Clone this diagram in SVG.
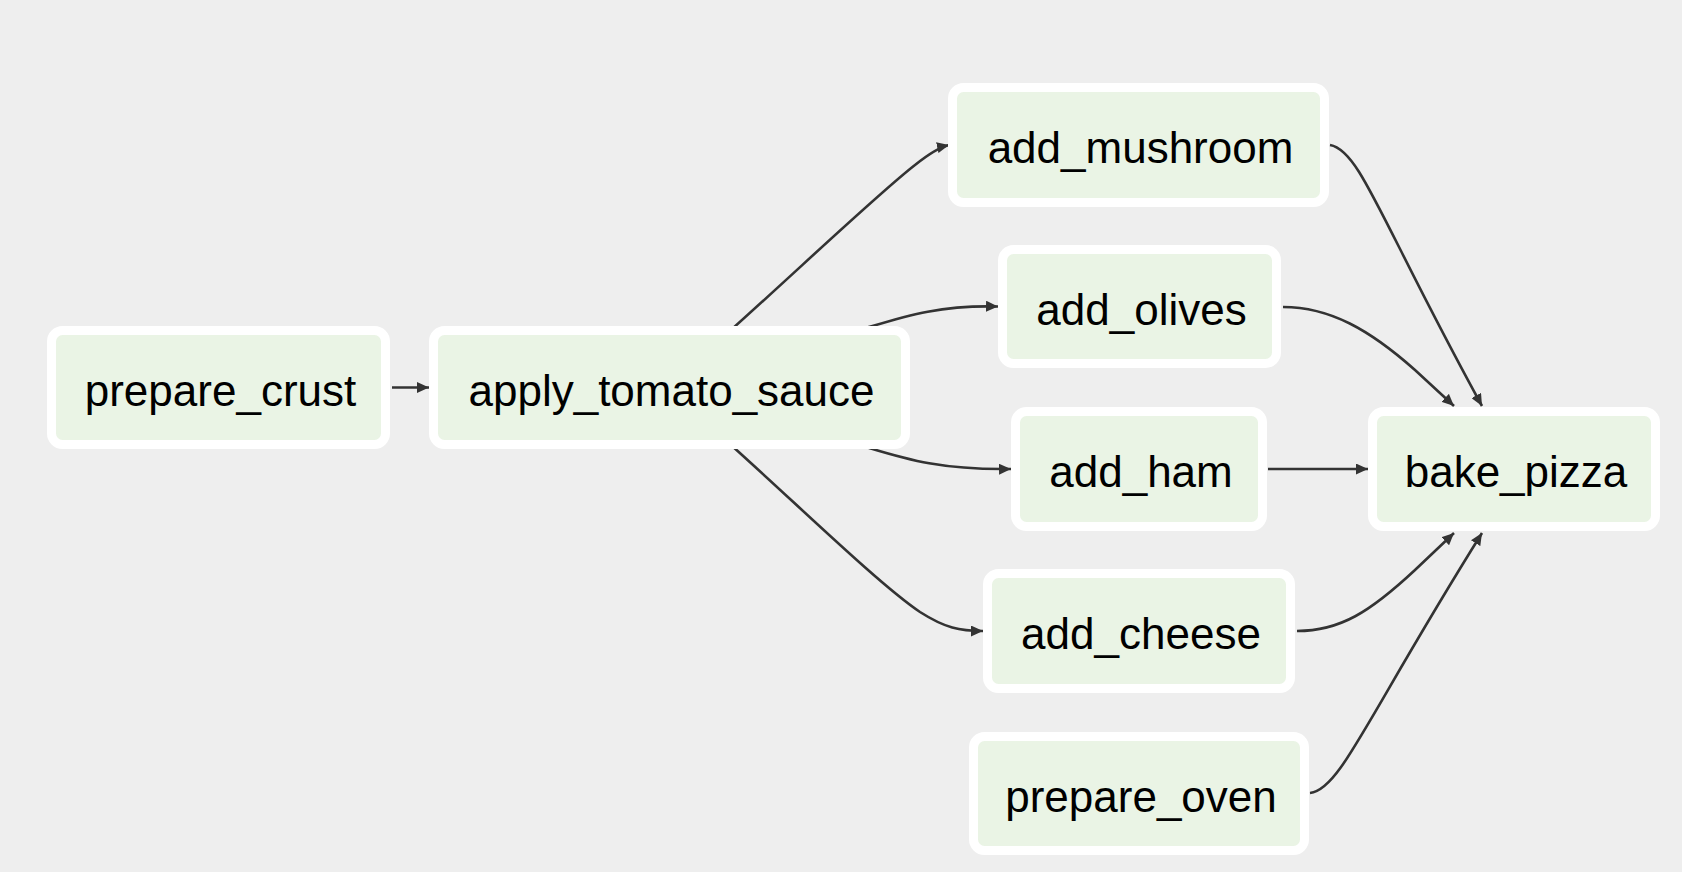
<svg xmlns="http://www.w3.org/2000/svg" width="1682" height="872" viewBox="0 0 1682 872">
<defs>
<style>
.bg{fill:#eeeeee}
.node rect{fill:#eaf4e5;stroke:#ffffff;stroke-width:9}
.node text{font-family:"Liberation Sans",Arial,Helvetica,sans-serif;font-size:44px;fill:#000000;text-anchor:middle}
.edge{fill:none;stroke:#333333;stroke-width:2.6;marker-end:url(#arr)}
</style>
<marker id="arr" markerUnits="userSpaceOnUse" markerWidth="13" markerHeight="11" refX="12" refY="5.5" orient="auto">
<path d="M0,0 L12,5.5 L0,11 z" fill="#333333"/>
</marker>
</defs>
<rect class="bg" x="0" y="0" width="1682" height="872"/>
<g id="connectors">
<path class="edge" d="M392 387.5 L429 387.5"/>
<path class="edge" d="M731 330 C800 268 880 192 915 165 C930 153 940 147 949 145"/>
<path class="edge" d="M866 328 C906 316 940 305 998 306.5"/>
<path class="edge" d="M866 447 C906 459 940 470 1011 469"/>
<path class="edge" d="M731 445 C800 507 880 585 920 612 C945 628 960 631 983 631"/>
<path class="edge" d="M1330 145 C1360 150 1380 220 1482 406"/>
<path class="edge" d="M1283 307 C1330 307 1370 330 1415 370 L1454 406"/>
<path class="edge" d="M1268 469 L1368 469"/>
<path class="edge" d="M1297 631 C1340 631 1370 612 1415 570 L1454 533"/>
<path class="edge" d="M1310 793 C1340 790 1365 720 1482 533"/>
</g>
<g id="prepare_crust" class="node"><rect x="51.5" y="330.5" width="334" height="114" rx="11"/><text x="220.5" y="406">prepare_crust</text></g>
<g id="apply_tomato_sauce" class="node"><rect x="433.5" y="330.5" width="472" height="114" rx="11"/><text x="671.5" y="406">apply_tomato_sauce</text></g>
<g id="add_mushroom" class="node"><rect x="952.5" y="87.5" width="372" height="115" rx="11"/><text x="1140.5" y="163">add_mushroom</text></g>
<g id="add_olives" class="node"><rect x="1002.5" y="249.5" width="274" height="114" rx="11"/><text x="1141.5" y="325">add_olives</text></g>
<g id="add_ham" class="node"><rect x="1015.5" y="411.5" width="247" height="115" rx="11"/><text x="1141" y="487">add_ham</text></g>
<g id="add_cheese" class="node"><rect x="987.5" y="573.5" width="303" height="115" rx="11"/><text x="1141" y="649">add_cheese</text></g>
<g id="prepare_oven" class="node"><rect x="973.5" y="736.5" width="331" height="114" rx="11"/><text x="1141" y="812">prepare_oven</text></g>
<g id="bake_pizza" class="node"><rect x="1372.5" y="411.5" width="283" height="115" rx="11"/><text x="1516" y="487">bake_pizza</text></g>
</svg>
